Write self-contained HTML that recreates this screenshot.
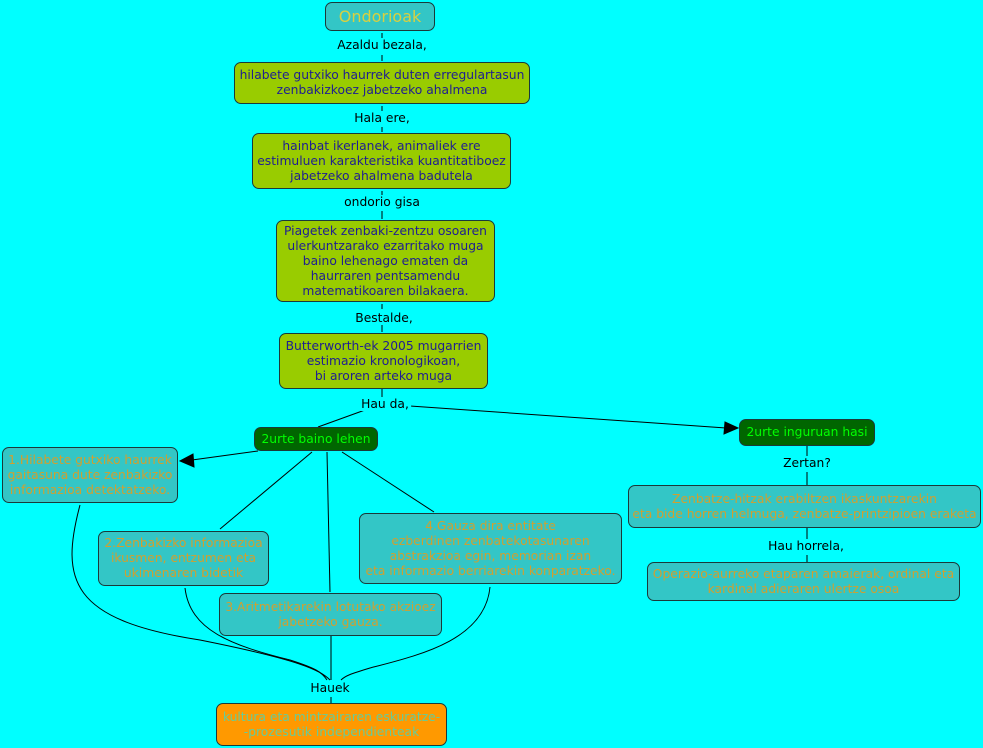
<!DOCTYPE html>
<html><head><meta charset="utf-8"><style>
body{margin:0;width:983px;height:748px;background:#00ffff;position:relative;overflow:hidden;font-family:"DejaVu Sans","Liberation Sans",sans-serif;font-size:12.3px}
.b{position:absolute;box-sizing:border-box;border:1px solid #1a3a3a;border-radius:7px;display:flex;align-items:center;justify-content:center;text-align:center;line-height:15px;white-space:nowrap}
.o{background:#99cc00;color:#202090}
.t{background:#33c6c6;color:#d0a030}
.g{background:#006600;color:#00ff00}
.l{position:absolute;background:#00ffff;color:#000;transform:translateX(-50%);white-space:nowrap;line-height:14px;padding:0 2px}
svg{position:absolute;left:0;top:0}
</style></head><body>
<svg width="983" height="748" stroke="#000" fill="none" stroke-width="1">
<line x1="382" y1="33" x2="382" y2="38"/>
<line x1="382" y1="55" x2="382" y2="61"/>
<line x1="382" y1="106" x2="382" y2="111"/>
<line x1="382" y1="127" x2="382" y2="132"/>
<line x1="382" y1="191" x2="382" y2="195"/>
<line x1="382" y1="211" x2="382" y2="219"/>
<line x1="382" y1="304" x2="382" y2="309"/>
<line x1="382" y1="325" x2="382" y2="332"/>
<line x1="382" y1="389" x2="382" y2="398"/>
<line x1="365" y1="410" x2="318" y2="427"/>
<line x1="410" y1="406" x2="726" y2="428"/>
<polygon points="738,428 725,422 724,434" fill="#000"/>
<line x1="807" y1="446" x2="807" y2="456"/>
<line x1="807" y1="472" x2="807" y2="485"/>
<line x1="807" y1="528" x2="807" y2="539"/>
<line x1="807" y1="555" x2="807" y2="562"/>
<line x1="258" y1="451" x2="192" y2="460"/>
<polygon points="180,461 193,454 194,467" fill="#000"/>
<line x1="312" y1="452" x2="220" y2="529"/>
<line x1="327" y1="452" x2="330" y2="592"/>
<line x1="342" y1="452" x2="434" y2="512"/>
<path d="M80,505 C60,580 70,620 200,640 C300,660 320,670 330,680"/>
<path d="M185,588 C190,630 230,645 290,660 C315,668 322,672 327,680"/>
<line x1="331" y1="636" x2="331" y2="680"/>
<path d="M490,587 C485,640 420,655 370,668 C350,674 345,676 341,680"/>
<line x1="331" y1="697" x2="331" y2="703"/>
</svg>
<div class="b t" style="left:325px;top:2px;width:110px;height:29px;color:#d8d040;font-size:16px">Ondorioak</div>
<div class="l" style="left:382px;top:38px">Azaldu bezala,</div>
<div class="b o" style="left:234px;top:62px;width:296px;height:42px">hilabete gutxiko haurrek duten erregulartasun<br>zenbakizkoez jabetzeko ahalmena</div>
<div class="l" style="left:382px;top:111px">Hala ere,</div>
<div class="b o" style="left:252px;top:133px;width:259px;height:56px">hainbat ikerlanek, animaliek ere<br>estimuluen karakteristika kuantitatiboez<br>jabetzeko ahalmena badutela</div>
<div class="l" style="left:382px;top:195px">ondorio gisa</div>
<div class="b o" style="left:276px;top:220px;width:219px;height:82px">Piagetek zenbaki-zentzu osoaren<br>ulerkuntzarako ezarritako muga<br>baino lehenago ematen da<br>haurraren pentsamendu<br>matematikoaren bilakaera.</div>
<div class="l" style="left:384px;top:311px">Bestalde,</div>
<div class="b o" style="left:279px;top:333px;width:209px;height:56px">Butterworth-ek 2005 mugarrien<br>estimazio kronologikoan,<br>bi aroren arteko muga</div>
<div class="l" style="left:385px;top:397px">Hau da,</div>
<div class="b g" style="left:254px;top:427px;width:124px;height:24px">2urte baino lehen</div>
<div class="b g" style="left:739px;top:419px;width:136px;height:27px">2urte inguruan hasi</div>
<div class="l" style="left:807px;top:456px">Zertan?</div>
<div class="b t" style="left:2px;top:447px;width:176px;height:56px">1.Hilabete gutxiko haurrek<br>gaitasuna dute zenbakizko<br>informazioa detektatzeko.</div>
<div class="b t" style="left:98px;top:531px;width:171px;height:55px">2.Zenbakizko informazioa<br>ikusmen, entzumen eta<br>ukimenaren bidetik</div>
<div class="b t" style="left:219px;top:593px;width:223px;height:43px">3.Aritmetikarekin lotutako akzioez<br>jabetzeko gauza.</div>
<div class="b t" style="left:359px;top:513px;width:263px;height:71px">4.Gauza dira entitate<br>ezberdinen zenbatekotasunaren<br>abstrakzioa egin, memorian izan<br>eta informazio berriarekin konparatzeko.</div>
<div class="b t" style="left:628px;top:485px;width:353px;height:43px">Zenbatze-hitzak erabiltzen ikaskuntzarekin<br>eta bide horren helmuga, zenbatze-printzipioen eraketa</div>
<div class="l" style="left:806px;top:539px">Hau horrela,</div>
<div class="b t" style="left:647px;top:562px;width:313px;height:39px">Operazio-aurreko etaparen amaierak, ordinal eta<br>kardinal adieraren ulertze osoa</div>
<div class="l" style="left:330px;top:681px">Hauek</div>
<div class="b" style="left:216px;top:703px;width:231px;height:43px;background:#ff9900;color:#66cc99">kultura eta mintzairaren eskuratze-<br>-prozesutik independienteak</div>
</body></html>
